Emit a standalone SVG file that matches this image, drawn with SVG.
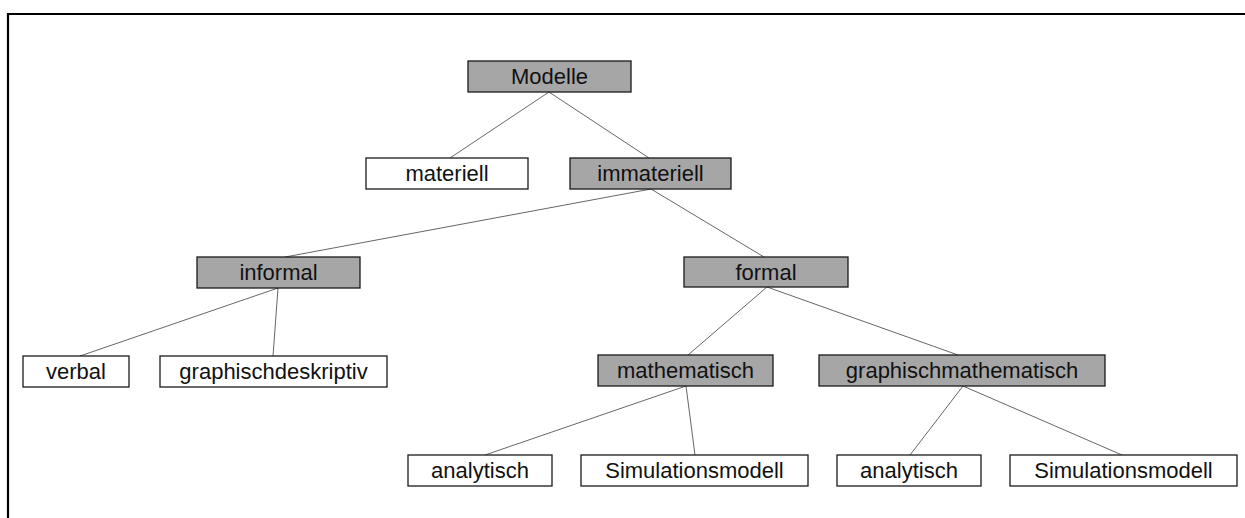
<svg xmlns="http://www.w3.org/2000/svg" width="1245" height="518" viewBox="0 0 1245 518">
  <style>
    .box rect { stroke: #1a1a1a; stroke-width: 1.3; }
    .grey rect { fill: #a6a6a6; }
    .white rect { fill: #ffffff; }
    .box text { font-family: "Liberation Sans", Arial, sans-serif; font-size: 22px; fill: #111; text-anchor: middle; }
    .links line { stroke: #666; stroke-width: 1; }
  </style>
  <rect width="1245" height="518" fill="#ffffff"/>
  <!-- outer frame -->
  <path d="M8,518 V14 H1245" fill="none" stroke="#000" stroke-width="2.2"/>

  <g class="links">
    <line x1="549" y1="92" x2="450" y2="158"/>
    <line x1="549" y1="92" x2="649" y2="158"/>
    <line x1="651" y1="189" x2="285" y2="257"/>
    <line x1="651" y1="189" x2="764" y2="257"/>
    <line x1="278" y1="288" x2="80" y2="356"/>
    <line x1="278" y1="288" x2="273" y2="356"/>
    <line x1="767" y1="287" x2="688" y2="355"/>
    <line x1="767" y1="287" x2="958" y2="355"/>
    <line x1="686" y1="386" x2="485" y2="455"/>
    <line x1="686" y1="386" x2="695" y2="455"/>
    <line x1="963" y1="386" x2="910" y2="455"/>
    <line x1="963" y1="386" x2="1122" y2="455"/>
  </g>

  <g id="modelle" class="box grey"><rect x="468" y="61" width="163" height="31"/><text x="549.5" y="84">Modelle</text></g>
  <g id="materiell" class="box white"><rect x="366" y="158" width="162" height="31"/><text x="447" y="181">materiell</text></g>
  <g id="immateriell" class="box grey"><rect x="570" y="158" width="161" height="31"/><text x="650.5" y="181">immateriell</text></g>
  <g id="informal" class="box grey"><rect x="197" y="257" width="163" height="31"/><text x="278.5" y="280">informal</text></g>
  <g id="formal" class="box grey"><rect x="684" y="257" width="164" height="30"/><text x="766" y="280">formal</text></g>
  <g id="verbal" class="box white"><rect x="23" y="356" width="106" height="31"/><text x="76" y="379">verbal</text></g>
  <g id="graphischdeskriptiv" class="box white"><rect x="160" y="356" width="227" height="31"/><text x="273.5" y="379">graphischdeskriptiv</text></g>
  <g id="mathematisch" class="box grey"><rect x="598" y="355" width="175" height="31"/><text x="685.5" y="378">mathematisch</text></g>
  <g id="graphischmathematisch" class="box grey"><rect x="819" y="355" width="286" height="31"/><text x="962" y="378">graphischmathematisch</text></g>
  <g id="analytisch-1" class="box white"><rect x="408" y="455" width="144" height="31"/><text x="480" y="478">analytisch</text></g>
  <g id="simulationsmodell-1" class="box white"><rect x="581" y="455" width="227" height="31"/><text x="694.5" y="478">Simulationsmodell</text></g>
  <g id="analytisch-2" class="box white"><rect x="837" y="455" width="144" height="31"/><text x="909" y="478">analytisch</text></g>
  <g id="simulationsmodell-2" class="box white"><rect x="1010" y="455" width="227" height="31"/><text x="1123.5" y="478">Simulationsmodell</text></g>
</svg>
